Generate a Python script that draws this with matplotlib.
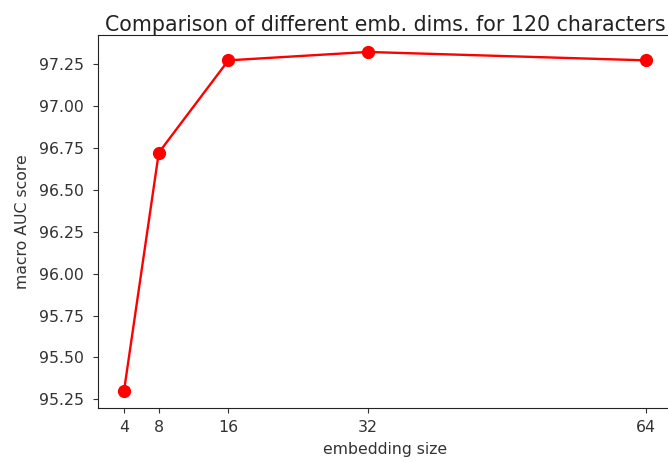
import matplotlib
matplotlib.use("Agg")
import matplotlib.pyplot as plt

emb_sizes = [4, 8, 16, 32, 64]
auc_scores = [95.30, 96.72, 97.27, 97.32, 97.27]
y_ticks = [95.25, 95.50, 95.75, 96.00, 96.25, 96.50, 96.75, 97.00, 97.25]

fig = plt.figure(figsize=(6.68, 4.63), dpi=100)
ax = fig.add_axes([97.9/668, 55/463, (672-97.9)/668, 373/463])
ax.plot(emb_sizes, auc_scores, color='red', marker='o', markersize=8.5, linewidth=1.7)
ax.set_xticks(emb_sizes)
ax.set_xticklabels([str(v) for v in emb_sizes])
ax.set_yticks(y_ticks)
ax.set_yticklabels([f"{v:.2f}" for v in y_ticks])
ax.tick_params(labelsize=11.3, length=3.5, color='#333333', labelcolor='#333333')
ax.tick_params(axis='y', pad=6.5)
ax.tick_params(axis='x', pad=5)
for s in ax.spines.values():
    s.set_color('#222222')
ax.set_xlabel("embedding size", fontsize=11.3, color='#333333', labelpad=5.4)
ax.set_ylabel("macro AUC score", fontsize=11.3, color='#333333', labelpad=6.5)
ax.set_title("Comparison of different emb. dims. for 120 characters", fontsize=14.8,
             color='#222222', pad=3)
fig.savefig("out.png", dpi=100)
